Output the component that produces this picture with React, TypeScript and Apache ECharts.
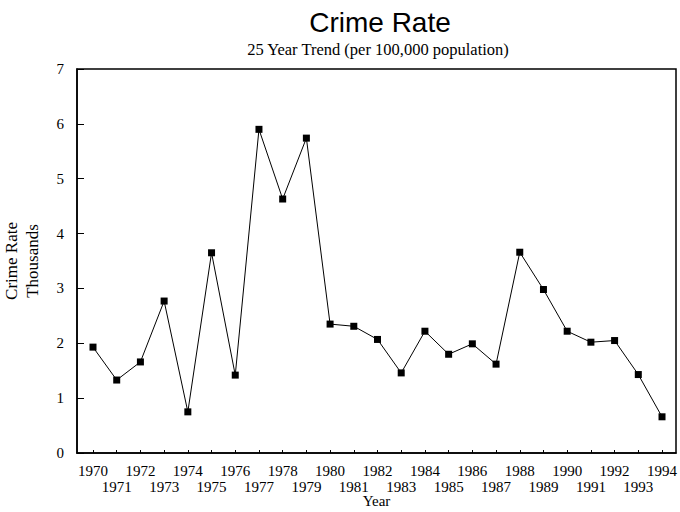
import React, { useEffect, useRef } from "react";
import * as echarts from "echarts";

const years = [
  1970, 1971, 1972, 1973, 1974, 1975, 1976, 1977, 1978, 1979, 1980, 1981, 1982,
  1983, 1984, 1985, 1986, 1987, 1988, 1989, 1990, 1991, 1992, 1993, 1994,
];
const crimeRate = [
  1.93, 1.33, 1.66, 2.77, 0.75, 3.65, 1.42, 5.9, 4.63, 5.74, 2.35, 2.31, 2.07,
  1.46, 2.22, 1.8, 1.99, 1.62, 3.66, 2.98, 2.22, 2.02, 2.05, 1.43, 0.66,
];
const evenYears = years.filter((y) => y % 2 === 0);
const oddYears = years.filter((y) => y % 2 === 1);
const yTicks = [0, 1, 2, 3, 4, 5, 6, 7];
const titleText = "Crime Rate";
const subtitleText = "25 Year Trend (per 100,000 population)";
const yName = "Crime Rate\nThousands";
const xName = "Year";

export default function App() {
  const ref = useRef<HTMLDivElement>(null);
  useEffect(() => {
    if (!ref.current) return;
    const chart = echarts.init(ref.current, null, { renderer: "svg" });
    const serif = "'Liberation Serif', 'DejaVu Serif', serif";
    const xMin = 1969.325;
    const xMax = 1994.59;
    const labelBase = {
      showMinLabel: true,
      showMaxLabel: true,
      hideOverlap: false,
      fontFamily: serif,
      fontSize: 15,
      color: "#000",
      formatter: (v: number) => String(Math.round(v)),
    };
    chart.setOption({
      animation: false,
      backgroundColor: "#fff",
      graphic: [
        {
          type: "text",
          x: 380,
          y: 22,
          style: {
            text: titleText,
            font: "28px 'Liberation Sans', Arial, sans-serif",
            fill: "#000",
            textAlign: "center",
            textVerticalAlign: "middle",
          },
        },
        {
          type: "text",
          x: 378,
          y: 49,
          style: {
            text: subtitleText,
            font: "16.5px " + serif,
            fill: "#000",
            textAlign: "center",
            textVerticalAlign: "middle",
          },
        },
      ],
      grid: {
        left: 77,
        right: 4,
        top: 69,
        bottom: 59,
        containLabel: false,
        outerBoundsMode: "none",
        show: true,
        borderColor: "#000",
        borderWidth: 1.5,
        backgroundColor: "transparent",
      },
      xAxis: [
        {
          type: "value",
          min: xMin,
          max: xMax,
          position: "bottom",
          name: xName,
          nameLocation: "middle",
          nameGap: 40,
          nameMoveOverlap: false,
          nameTextStyle: { fontFamily: serif, fontSize: 15, color: "#000" },
          axisLine: { show: true, lineStyle: { color: "#000", width: 1.5 } },
          axisTick: {
            show: true,
            inside: true,
            length: 3,
            customValues: years,
            lineStyle: { color: "#000", width: 1 },
          },
          axisLabel: { ...labelBase, customValues: evenYears, margin: 10 },
          splitLine: { show: false },
        },
        {
          type: "value",
          min: xMin,
          max: xMax,
          position: "bottom",
          offset: 0,
          axisLine: { show: false },
          axisTick: { show: false },
          axisLabel: { ...labelBase, customValues: oddYears, margin: 26 },
          splitLine: { show: false },
        },
      ],
      yAxis: {
        type: "value",
        min: 0,
        max: 7,
        interval: 1,
        name: yName,
        nameLocation: "middle",
        nameRotate: 90,
        nameGap: 34,
        nameMoveOverlap: false,
        nameTextStyle: {
          fontFamily: serif,
          fontSize: 17,
          color: "#000",
          lineHeight: 21,
          align: "center",
        },
        axisLine: { show: true, lineStyle: { color: "#000", width: 1.5 } },
        axisTick: {
          show: true,
          inside: true,
          length: 7,
          lineStyle: { color: "#000", width: 1 },
        },
        axisLabel: {
          margin: 13,
          showMinLabel: true,
          showMaxLabel: true,
          fontFamily: serif,
          fontSize: 15,
          color: "#000",
          formatter: (v: number) => (yTicks.indexOf(v) >= 0 ? String(v) : ""),
        },
        splitLine: { show: false },
      },
      series: [
        {
          type: "line",
          xAxisIndex: 0,
          data: years.map((y, i) => [y, crimeRate[i]]),
          symbol: "rect",
          symbolSize: 7,
          showAllSymbol: true,
          lineStyle: { color: "#000", width: 1 },
          itemStyle: { color: "#000" },
        },
      ],
    });
    return () => chart.dispose();
  }, []);
  return (
    <div
      ref={ref}
      style={{ position: "absolute", left: 0, top: 0, width: 680, height: 512 }}
    />
  );
}
